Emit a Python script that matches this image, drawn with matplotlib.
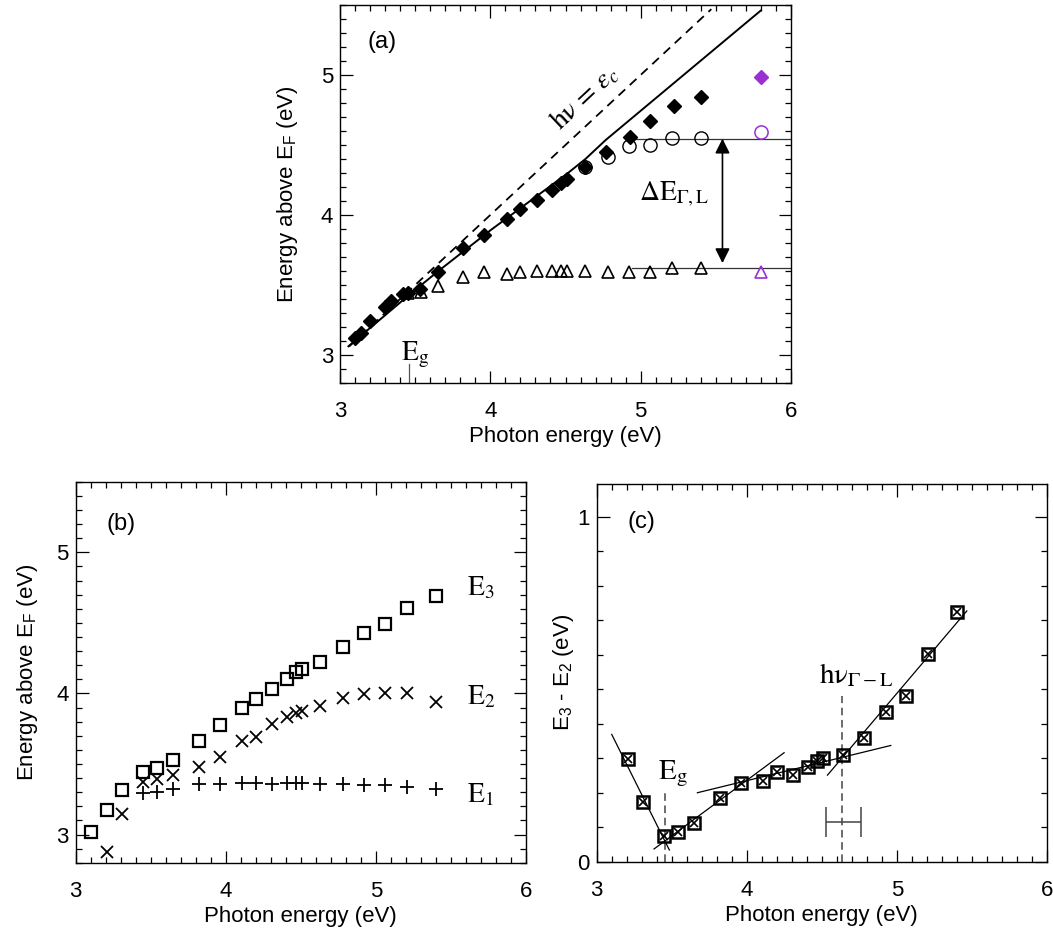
import matplotlib
matplotlib.use("Agg")
import matplotlib.pyplot as plt
from matplotlib.ticker import MultipleLocator

plt.rcParams['font.family'] = ['Liberation Sans', 'DejaVu Sans']
plt.rcParams['font.size'] = 16

PURPLE = '#9a2fd6'

# ---- panel (a) ----
a_diam_x = [3.10, 3.14, 3.20, 3.30, 3.34, 3.42, 3.45, 3.53, 3.65, 3.82, 3.96, 4.11,
            4.20, 4.31, 4.41, 4.47, 4.51, 4.63, 4.77, 4.93, 5.06, 5.22, 5.40]
a_diam_y = [3.12, 3.16, 3.245, 3.34, 3.385, 3.435, 3.44, 3.47, 3.589, 3.762, 3.855, 3.969,
            4.04, 4.107, 4.178, 4.23, 4.259, 4.344, 4.451, 4.558, 4.672, 4.777, 4.843]
a_circ_x = [4.63, 4.78, 4.92, 5.06, 5.21, 5.40]
a_circ_y = [4.344, 4.416, 4.494, 4.501, 4.553, 4.553]
a_tri_x = [3.45, 3.54, 3.65, 3.82, 3.96, 4.11, 4.20, 4.31, 4.41, 4.47, 4.51, 4.63,
           4.78, 4.92, 5.06, 5.21, 5.40]
a_tri_y = [3.44, 3.45, 3.494, 3.556, 3.591, 3.575, 3.591, 3.603, 3.603, 3.603, 3.603, 3.603,
           3.591, 3.591, 3.591, 3.618, 3.618]
calc_x = 5.80
calc_diam, calc_circ, calc_tri = 4.986, 4.591, 3.589

solid_x = [3.056, 3.45, 3.649, 4.0, 4.511, 4.633, 4.767, 5.80]
solid_y = [3.062, 3.42, 3.595, 3.89, 4.295, 4.40, 4.535, 5.461]
dash_x = [3.06, 5.47]
level_hi, level_lo = 4.545, 3.624
level_start = 4.94
arrow_x = 5.544

# ---- panel (b) ----
b_x = [3.10, 3.21, 3.31, 3.45, 3.54, 3.65, 3.82, 3.96, 4.11, 4.20, 4.31, 4.41,
       4.47, 4.51, 4.63, 4.78, 4.92, 5.06, 5.21, 5.40]
b_e3 = [3.019, 3.177, 3.319, 3.444, 3.468, 3.527, 3.664, 3.775, 3.898, 3.957, 4.031, 4.102,
        4.149, 4.173, 4.220, 4.331, 4.426, 4.492, 4.608, 4.690]
b_e2_x = b_x[1:]
b_e2 = [2.877, 3.142, 3.374, 3.397, 3.421, 3.480, 3.551, 3.664, 3.693, 3.780, 3.830,
        3.858, 3.877, 3.910, 3.965, 3.995, 4.005, 4.000, 3.936]
b_e1_x = b_x[3:]
b_e1 = [3.296, 3.303, 3.326, 3.357, 3.357, 3.366, 3.362, 3.357, 3.362, 3.362, 3.362,
        3.357, 3.357, 3.350, 3.350, 3.338, 3.326]

# ---- panel (c) ----
c_x = [3.21, 3.31, 3.45, 3.54, 3.65, 3.82, 3.96, 4.11, 4.20, 4.31, 4.41, 4.47,
       4.51, 4.64, 4.78, 4.93, 5.06, 5.21, 5.40]
c_y = [0.297, 0.172, 0.075, 0.085, 0.111, 0.184, 0.227, 0.235, 0.261, 0.251, 0.275, 0.292,
       0.302, 0.309, 0.360, 0.433, 0.481, 0.602, 0.725]
fit_x = [[3.10, 3.484], [3.382, 4.249], [3.671, 4.96], [4.538, 5.467]]
fit_y = [[0.369, 0.034], [0.037, 0.316], [0.200, 0.337], [0.251, 0.727]]
c_eg = 3.456
c_hv = 4.638
c_hv_err = [4.527, 4.762]


def style_axes(ax, ymin, ymax, ymajor, yminor):
    ax.set_xlim(3, 6)
    ax.set_ylim(ymin, ymax)
    ax.xaxis.set_major_locator(MultipleLocator(1))
    ax.xaxis.set_minor_locator(MultipleLocator(0.1))
    ax.yaxis.set_major_locator(MultipleLocator(ymajor))
    ax.yaxis.set_minor_locator(MultipleLocator(yminor))
    ax.tick_params(which='both', direction='in', top=True, right=True, width=0.9)
    ax.tick_params(which='major', length=9)
    ax.tick_params(which='minor', length=4.5)
    ax.tick_params(axis='x', pad=13)
    ax.tick_params(axis='y', pad=5)
    for s in ax.spines.values():
        s.set_linewidth(1.0)
    ax.set_xlabel('Photon energy (eV)', labelpad=3)


fig = plt.figure(figsize=(10.53, 9.32), dpi=100)
ax_a = fig.add_axes([0.3229, 0.5891, 0.4283, 0.4056])
ax_b = fig.add_axes([0.0719, 0.0743, 0.4276, 0.4088])
ax_c = fig.add_axes([0.5667, 0.0754, 0.4274, 0.4053])

# serif annotations: plain STIX text, mathtext only for sub/superscripts
serif = dict(family='STIXGeneral', math_fontfamily='stix', fontsize=20)

# (a)
style_axes(ax_a, 2.8, 5.5, 1, 0.1)
ax_a.set_ylabel(r'Energy above E$_\mathregular{F}$ (eV)', labelpad=15)
ax_a.plot(dash_x, dash_x, color='black', lw=1.3, ls=(0, (5, 3.5)))
ax_a.plot(solid_x, solid_y, color='black', lw=1.4)
ax_a.plot([level_start, 6], [level_hi, level_hi], color='#333333', lw=0.9)
ax_a.plot([level_start, 6], [level_lo, level_lo], color='#333333', lw=0.9)
ax_a.plot(a_tri_x, a_tri_y, ls='none', marker='^', ms=9, mfc='none', mec='black', mew=1.2)
ax_a.plot(a_circ_x, a_circ_y, ls='none', marker='o', ms=9.5, mfc='none', mec='black', mew=1.0)
ax_a.plot(a_diam_x, a_diam_y, ls='none', marker='D', ms=7.2, color='black')
ax_a.plot([calc_x], [calc_diam], ls='none', marker='D', ms=7.2, color=PURPLE)
ax_a.plot([calc_x], [calc_circ], ls='none', marker='o', ms=9.5, mfc='none', mec=PURPLE, mew=1.1)
ax_a.plot([calc_x], [calc_tri], ls='none', marker='^', ms=9, mfc='none', mec=PURPLE, mew=1.2)
ax_a.annotate('', xy=(arrow_x, 3.656), xytext=(arrow_x, level_hi),
              arrowprops=dict(arrowstyle='<|-|>', color='black', lw=1.2,
                              mutation_scale=22, shrinkA=0, shrinkB=0))
ax_a.plot([3.458, 3.458], [2.8, 2.935], color='#555555', lw=0.9)
ax_a.text(3.50, 3.0, r'E$_\mathrm{g}$', ha='center', va='center', **serif)
ax_a.text(5.22, 4.15, r'ΔE$_{\Gamma,\mathrm{L}}$', ha='center', va='center', **serif)
ax_a.text(4.63, 4.84, r'hν = $\varepsilon_c$', ha='center', va='center',
          rotation=43, rotation_mode='anchor', **serif)
ax_a.text(3.28, 5.235, '(a)', ha='center', va='center', fontsize=17)

# (b)
style_axes(ax_b, 2.8, 5.5, 1, 0.1)
ax_b.set_ylabel(r'Energy above E$_\mathregular{F}$ (eV)', labelpad=12)
ax_b.plot(b_x, b_e3, ls='none', marker='s', ms=8.2, mfc='none', mec='black', mew=1.6)
ax_b.plot(b_e2_x, b_e2, ls='none', marker='x', ms=8.5, color='black', mew=1.3)
ax_b.plot(b_e1_x, b_e1, ls='none', marker='+', ms=9.5, color='black', mew=1.3)
ax_b.text(5.70, 4.745, r'E$_\mathrm{3}$', ha='center', va='center', **serif)
ax_b.text(5.70, 3.976, r'E$_\mathrm{2}$', ha='center', va='center', **serif)
ax_b.text(5.70, 3.279, r'E$_\mathrm{1}$', ha='center', va='center', **serif)
ax_b.text(3.30, 5.20, '(b)', ha='center', va='center', fontsize=17)

# (c)
style_axes(ax_c, 0, 1.095, 1, 0.1)
ax_c.set_ylabel(r'E$_\mathregular{3}$ - E$_\mathregular{2}$ (eV)', labelpad=1)
for fx, fy in zip(fit_x, fit_y):
    ax_c.plot(fx, fy, color='black', lw=0.9)
ax_c.plot([c_eg, c_eg], [0, 0.21], color='#444444', lw=1.1, ls=(0, (5, 3)))
ax_c.plot([c_hv, c_hv], [0, 0.48], color='#444444', lw=1.1, ls=(0, (5, 3)))
ax_c.errorbar([c_hv], [0.116], xerr=[[c_hv - c_hv_err[0]], [c_hv_err[1] - c_hv]],
              fmt='none', ecolor='#444444', elinewidth=1.1, capsize=11, capthick=1.1)
ax_c.plot(c_x, c_y, ls='none', marker='s', ms=8.4, mfc='none', mec='black', mew=1.8)
ax_c.plot(c_x, c_y, ls='none', marker='x', ms=5.4, color='black', mew=1.2)
ax_c.text(3.51, 0.256, r'E$_\mathrm{g}$', ha='center', va='center',
          family='STIXGeneral', math_fontfamily='stix', fontsize=21)
ax_c.text(4.73, 0.541, r'hν$_{\Gamma-\mathrm{L}}$', ha='center', va='center',
          family='STIXGeneral', math_fontfamily='stix', fontsize=21)
ax_c.text(3.30, 0.986, '(c)', ha='center', va='center', fontsize=17)

fig.savefig('out.png', dpi=100)
